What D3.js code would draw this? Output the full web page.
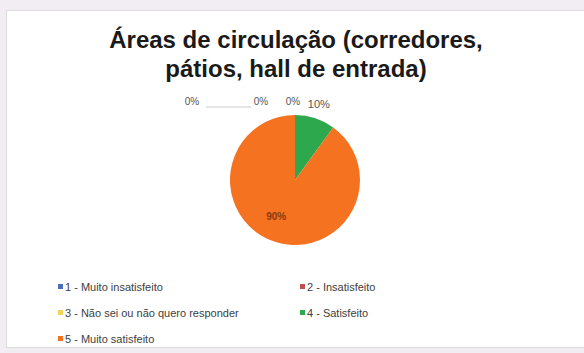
<!DOCTYPE html>
<html>
<head>
<meta charset="utf-8">
<script src="https://cdn.jsdelivr.net/npm/d3@7"></script>
<style>
  body { margin: 0; background: #f1edf3; }
  svg { display: block; }
</style>
</head>
<body>
<div id="chart"></div>
<script>
// Data
const categories = [
    "1 - Muito insatisfeito",
    "2 - Insatisfeito",
    "3 - Não sei ou não quero responder",
    "4 - Satisfeito",
    "5 - Muito satisfeito"
];
const values = [0, 0, 0, 10, 90];
const colors = ["#4a6fb8", "#c0504d", "#f3d35a", "#2ea84c", "#f47220"];
const titleLines = ["Áreas de circulação (corredores,", "pátios, hall de entrada)"];

const width = 584;
const height = 353;
const cx = 295, cy = 180, radius = 65;

const svg = d3.select("#chart")
    .append("svg")
    .attr("width", width)
    .attr("height", height);

// chart card
svg.append("rect")
    .attr("x", 6.5).attr("y", 10.5)
    .attr("width", 590).attr("height", 337)
    .attr("fill", "#ffffff")
    .attr("stroke", "#dcdcdc");

// title
svg.append("g")
    .selectAll("text")
    .data(titleLines)
    .enter()
    .append("text")
    .attr("x", 296)
    .attr("y", (d, i) => 48 + i * 29)
    .attr("text-anchor", "middle")
    .attr("font-family", "Liberation Sans, Arial, sans-serif")
    .attr("font-size", "24px")
    .attr("font-weight", "bold")
    .attr("fill", "#1a1a1a")
    .text((d) => d);

// pie
const pie = d3.pie().sort(null).value((d) => d)(values);
const arc = d3.arc().innerRadius(0).outerRadius(radius);
const outerArc = d3.arc().innerRadius(radius + 12).outerRadius(radius + 12);

const g = svg.append("g").attr("transform", "translate(" + cx + "," + cy + ")");

g.selectAll("path")
    .data(pie)
    .enter()
    .append("path")
    .attr("d", arc)
    .attr("fill", (d, i) => colors[i]);

// labels for the small slices sit above the pie
const labelShift = [-103, -34, -2, 0];
const small = pie.slice(0, 4);

g.append("line")
    .attr("x1", outerArc.centroid(small[0])[0] + labelShift[0] + 14)
    .attr("x2", outerArc.centroid(small[1])[0] + labelShift[1] - 10)
    .attr("y1", -radius - 8)
    .attr("y2", -radius - 8)
    .attr("stroke", "#bdbdbd")
    .attr("stroke-width", 0.8);

g.selectAll(".lbl")
    .data(small)
    .enter()
    .append("text")
    .attr("class", "lbl")
    .attr("x", (d, i) => outerArc.centroid(d)[0] + labelShift[i])
    .attr("y", (d, i) => i < 3 ? -radius - 10 : outerArc.centroid(d)[1] + 1)
    .attr("text-anchor", "middle")
    .attr("font-family", "Liberation Sans, Arial, sans-serif")
    .attr("font-size", (d, i) => i < 3 ? "10px" : "11px")
    .attr("fill", "#555555")
    .text((d) => d.value + "%");

// label inside the big slice
const inner = d3.arc().innerRadius(38).outerRadius(38);
g.append("text")
    .attr("x", inner.centroid(pie[4])[0] - 7)
    .attr("y", inner.centroid(pie[4])[1] + 4)
    .attr("text-anchor", "middle")
    .attr("font-family", "Liberation Sans, Arial, sans-serif")
    .attr("font-size", "10px")
    .attr("font-weight", "bold")
    .attr("fill", "#8a3a10")
    .text(pie[4].value + "%");

// legend
const legend = svg.append("g")
    .selectAll("g")
    .data(categories)
    .enter()
    .append("g")
    .attr("transform", (d, i) => "translate(" + (i % 2 === 0 ? 58 : 300) + "," + (287 + Math.floor(i / 2) * 26) + ")");

legend.append("rect")
    .attr("x", 0).attr("y", -3)
    .attr("width", 5).attr("height", 5)
    .attr("fill", (d, i) => colors[i]);

legend.append("text")
    .attr("x", 7)
    .attr("y", 4)
    .attr("font-family", "Liberation Sans, Arial, sans-serif")
    .attr("font-size", "11px")
    .attr("fill", "#404040")
    .text((d) => d);
</script>
</body>
</html>
